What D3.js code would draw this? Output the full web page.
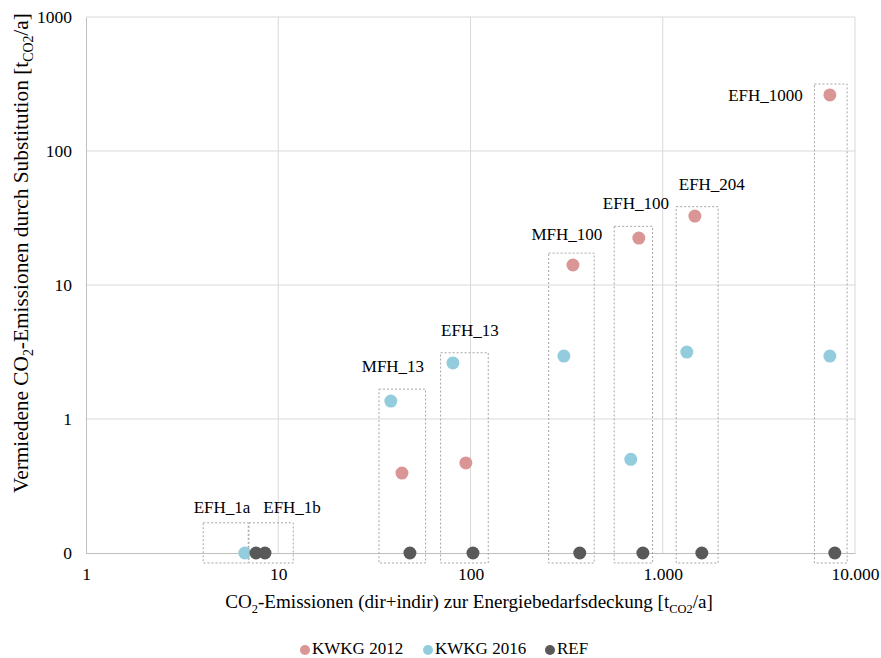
<!DOCTYPE html>
<html>
<head>
<meta charset="utf-8">
<script src="https://cdn.jsdelivr.net/npm/d3@7"></script>
</head>
<body style="margin:0; background:#fff">
<div id="chart"></div>
<script>
// series values [x, y] (0 on the y axis plotted at 0.1)
const kwkg2012 = [[44, 0.395], [94.6, 0.47], [341, 14.1], [751, 22.4], [1469, 32.7], [7400, 262]];
const kwkg2016 = [[6.7, 0.1], [38.5, 1.36], [81, 2.62], [306, 2.95], [682, 0.5], [1334, 3.16], [7400, 2.95]];
const ref = [[7.66, 0.1], [8.53, 0.1], [48.4, 0.1], [103, 0.1], [370, 0.1], [788, 0.1], [1597, 0.1], [7850, 0.1]];

// groups: name, box x range, box top (data units)
const groupNames = ["EFH_1a", "EFH_1b", "MFH_13", "EFH_13", "MFH_100", "EFH_100", "EFH_204", "EFH_1000"];
const boxX0 = [4.07, 7.04, 33.4, 69.9, 255, 559, 1175, 6153];
const boxX1 = [6.98, 11.97, 58.4, 123.7, 440, 885, 1941, 9098];
const boxTop = [0.168, 0.168, 1.67, 3.12, 17.3, 27.4, 38.4, 316];
const labelX = [5.1, 11.8, 39.5, 99.3, 317, 725, 1800, 5355];
const labelY = [0.199, 0.199, 2.24, 4.16, 21.7, 36.9, 51.2, 236];

const xTicks = [1, 10, 100, 1000, 10000];
const xTickLabels = ["1", "10", "100", "1.000", "10.000"];
const yTicks = [0.1, 1, 10, 100, 1000];
const yTickLabels = ["0", "1", "10", "100", "1000"];

const seriesNames = ["KWKG 2012", "KWKG 2016", "REF"];
const seriesColors = ["#d99694", "#93cddd", "#595959"];

const width = 881, height = 658;
const margin = { top: 17, right: 26, bottom: 105, left: 86 };
const FONT = "'Liberation Serif', 'Times New Roman', serif";

const svg = d3.select("#chart").append("svg")
    .attr("width", width)
    .attr("height", height)
    .style("font-family", FONT);

const x = d3.scaleLog().domain([1, 10000]).range([margin.left, width - margin.right]);
const y = d3.scaleLog().domain([0.1, 1000]).range([height - margin.bottom, margin.top]);

// gridlines
svg.append("g").selectAll("line")
    .data(xTicks.slice(1))
    .join("line")
    .attr("x1", d => x(d)).attr("x2", d => x(d))
    .attr("y1", y(0.1)).attr("y2", y(1000))
    .attr("stroke", "#d9d9d9");

svg.append("g").selectAll("line")
    .data(yTicks.slice(1))
    .join("line")
    .attr("x1", x(1)).attr("x2", x(10000))
    .attr("y1", d => y(d)).attr("y2", d => y(d))
    .attr("stroke", "#d9d9d9");

// axes
const xAxis = svg.append("g")
    .attr("transform", "translate(0," + y(0.1) + ")")
    .call(d3.axisBottom(x).tickValues(xTicks).tickSize(0).tickPadding(15)
        .tickFormat((d, i) => xTickLabels[i]));
const yAxis = svg.append("g")
    .attr("transform", "translate(" + x(1) + ",0)")
    .call(d3.axisLeft(y).tickValues(yTicks).tickSize(0).tickPadding(14)
        .tickFormat((d, i) => yTickLabels[i]));
[xAxis, yAxis].forEach(g => {
    g.attr("font-family", null).attr("font-size", null);
    g.select(".domain").attr("stroke", "#bfbfbf");
    g.selectAll("text").style("font-size", "17.5px").style("font-family", FONT).attr("fill", "#000");
});

// dotted group boxes
svg.append("g").selectAll("rect")
    .data(groupNames)
    .join("rect")
    .attr("x", (d, i) => x(boxX0[i]))
    .attr("y", (d, i) => y(boxTop[i]))
    .attr("width", (d, i) => x(boxX1[i]) - x(boxX0[i]))
    .attr("height", (d, i) => y(0.1) + 10 - y(boxTop[i]))
    .attr("fill", "none")
    .attr("stroke", "#a6a6a6")
    .attr("stroke-dasharray", "2,2");

// group labels
svg.append("g").selectAll("text")
    .data(groupNames)
    .join("text")
    .attr("x", (d, i) => x(labelX[i]))
    .attr("y", (d, i) => y(labelY[i]))
    .attr("text-anchor", d => d === "EFH_1000" ? "end" : "middle")
    .style("font-family", FONT)
    .style("font-size", "17px")
    .text(d => d);

// points
[kwkg2012, kwkg2016, ref].forEach((s, k) => {
    svg.append("g").selectAll("circle")
        .data(s)
        .join("circle")
        .attr("cx", d => x(d[0]))
        .attr("cy", d => y(d[1]))
        .attr("r", 6.5)
        .attr("fill", seriesColors[k]);
});

// axis titles with subscripts, sized to span a given length
function title(parts, transform, span) {
    const t = svg.append("text")
        .attr("transform", transform)
        .attr("text-anchor", "middle")
        .style("font-family", FONT);
    const spans = parts.map((p, i) =>
        t.append("tspan").text(p[0]).datum({ sub: !!p[1], after: i > 0 && !!parts[i - 1][1] }));
    const setSize = fs => {
        t.style("font-size", fs + "px");
        spans.forEach(s => {
            const d = s.datum();
            if (d.sub) s.style("font-size", (fs * 0.65) + "px").attr("dy", (fs * 0.25) + "px");
            else if (d.after) s.attr("dy", (-fs * 0.25) + "px");
        });
    };
    setSize(17);
    const len = t.node().getComputedTextLength();
    setSize(17 * span / len);
}

title([["CO"], ["2", 1], ["-Emissionen (dir+indir) zur Energiebedarfsdeckung [t"], ["CO2", 1], ["/a]"]],
    "translate(469,608)", 488);
title([["Vermiedene CO"], ["2", 1], ["-Emissionen durch Substitution [t"], ["CO2", 1], ["/a]"]],
    "translate(28,253) rotate(-90)", 480);

// legend
const legendX = [305, 428, 550];
const legend = svg.append("g").selectAll("g")
    .data(seriesNames)
    .join("g")
    .attr("transform", (d, i) => "translate(" + legendX[i] + ",650)");
legend.append("circle").attr("r", 5).attr("fill", (d, i) => seriesColors[i]);
legend.append("text")
    .attr("x", 7).attr("y", 4)
    .style("font-family", FONT)
    .style("font-size", "17px")
    .text(d => d);
</script>
</body>
</html>
